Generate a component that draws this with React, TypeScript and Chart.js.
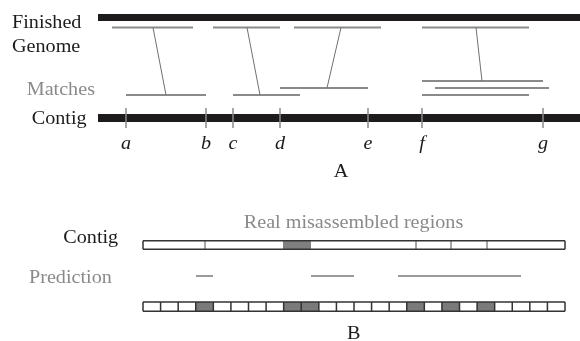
import React, { useEffect, useRef } from "react";
import { Chart, registerables } from "chart.js";
Chart.register(...registerables);

// ---------- Panel A data (sequence positions) ----------
const genomeSpan = [98, 580];
const contigSpan = [98, 580];
const genomeMatches = [[112, 193], [213, 280], [294, 381], [422, 529]];
const contigMatches = [[126, 206], [233, 300], [280, 368], [422, 543], [435, 549], [422, 529]];
const contigMatchLevel = [95, 95, 88, 81, 88, 95];
const linkGenomePos = [153, 247, 341, 476];
const linkContigPos = [166, 260, 327, 482];
const linkContigLevel = [95, 95, 88, 81];
const breakpointLabels = ["a", "b", "c", "d", "e", "f", "g"];
const breakpointPos = [126, 206, 233, 280, 368, 422, 543];

// ---------- Panel B data ----------
const contigBSpan = [143, 565];
const contigBDividers = [205, 416, 451, 487];
const realRegions = [[283, 311]];
const predictions = [[196, 213], [311, 354], [398, 521]];
const windowCount = 24;
const flaggedWindows = [3, 8, 9, 15, 17, 19];

// ---------- Track levels ----------
const Y_GENOME = 17.5;
const Y_GENOME_MATCH = 27.5;
const Y_CONTIG = 118;
const Y_TICK = [108, 128];
const Y_CONTIG_B = [240.7, 249.3];
const Y_PRED = 276;
const Y_WIN = [302, 311.3];

type P = { x: number; y: number | null };
const segs = (list: number[][]): P[] => {
  const out: P[] = [];
  list.forEach((s) => {
    out.push({ x: s[0], y: s[1] }, { x: s[2], y: s[3] }, { x: s[2], y: null });
  });
  return out;
};
const rect = (x1: number, x2: number, y1: number, y2: number): number[][] => [
  [x1, y1, x2, y1],
  [x2, y1, x2, y2],
  [x2, y2, x1, y2],
  [x1, y2, x1, y1],
];

const INK = "#1e1b1c";
const GRAY = "#8a8a8a";

const STRETCH = 1.12;
const FONT_SIZE = 18;
const FONT = '"Liberation Serif", "Times New Roman", serif';

type Label = { t: string; x: number; y: number; color: string; align: CanvasTextAlign; italic?: boolean };
const textLabels: Label[] = [
  { t: "Finished", x: 12, y: 27.7, color: INK, align: "left" },
  { t: "Genome", x: 12, y: 51.5, color: INK, align: "left" },
  { t: "Matches", x: 26.7, y: 95, color: GRAY, align: "left" },
  { t: "Contig", x: 31.7, y: 123.5, color: INK, align: "left" },
  { t: "A", x: 341, y: 176.5, color: INK, align: "center" },
  { t: "Real misassembled regions", x: 353.5, y: 227.5, color: GRAY, align: "center" },
  { t: "Contig", x: 63.3, y: 242.5, color: INK, align: "left" },
  { t: "Prediction", x: 29, y: 283, color: GRAY, align: "left" },
  { t: "B", x: 353.7, y: 339, color: INK, align: "center" },
  ...breakpointLabels.map((t, i) => ({ t, x: breakpointPos[i], y: 149, color: INK, align: "center" as CanvasTextAlign, italic: true })),
];

const textPlugin = {
  id: "diagramText",
  afterDatasetsDraw(chart: any) {
    const { ctx, scales } = chart;
    ctx.save();
    textLabels.forEach((l) => {
      const px = scales.x.getPixelForValue(l.x);
      const py = scales.y.getPixelForValue(l.y);
      ctx.save();
      ctx.translate(px, py);
      ctx.scale(STRETCH, 1);
      ctx.font = `${l.italic ? "italic " : ""}${FONT_SIZE}px ${FONT}`;
      ctx.fillStyle = l.color;
      ctx.textAlign = l.align;
      ctx.textBaseline = "alphabetic";
      ctx.fillText(l.t, 0, 0);
      ctx.restore();
    });
    ctx.restore();
  },
};

const line = (data: P[], color: string, width: number, order: number) => ({
  type: "scatter" as const,
  data,
  showLine: true,
  borderColor: color,
  backgroundColor: color,
  borderWidth: width,
  pointRadius: 0,
  spanGaps: false,
  tension: 0,
  borderCapStyle: "butt" as const,
  borderJoinStyle: "miter" as const,
  clip: false as const,
  order,
});

export default function App() {
  const ref = useRef<HTMLCanvasElement>(null);
  useEffect(() => {
    if (!ref.current) return;
    const winW = (contigBSpan[1] - contigBSpan[0]) / windowCount;
    const winEdges = Array.from({ length: windowCount - 1 }, (_, i) => contigBSpan[0] + winW * (i + 1));
    const yWinMid = (Y_WIN[0] + Y_WIN[1]) / 2;
    const yCbMid = (Y_CONTIG_B[0] + Y_CONTIG_B[1]) / 2;

    const datasets: any[] = [
      line(segs([[genomeSpan[0], Y_GENOME, genomeSpan[1], Y_GENOME]]), INK, 7, 5),
      line(segs([[contigSpan[0], Y_CONTIG, contigSpan[1], Y_CONTIG]]), INK, 8, 5),
      line(segs(genomeMatches.map((m) => [m[0], Y_GENOME_MATCH, m[1], Y_GENOME_MATCH])), GRAY, 2, 3),
      line(segs(contigMatches.map((m, i) => [m[0], contigMatchLevel[i], m[1], contigMatchLevel[i]])), GRAY, 2, 3),
      line(segs(linkGenomePos.map((g, i) => [g, Y_GENOME_MATCH, linkContigPos[i], linkContigLevel[i]])), "#707070", 1, 2),
      line(segs(breakpointPos.map((x) => [x, Y_TICK[0], x, Y_TICK[1]])), GRAY, 1.5, 1),
      // Panel B contig
      line(segs(realRegions.map((r) => [r[0], yCbMid, r[1], yCbMid])), "#7f7f7f", Y_CONTIG_B[1] - Y_CONTIG_B[0], 6),
      line(segs(contigBDividers.map((x) => [x, Y_CONTIG_B[0], x, Y_CONTIG_B[1]])), "#9a9a9a", 1, 4),
      line(segs(rect(contigBSpan[0], contigBSpan[1], Y_CONTIG_B[0], Y_CONTIG_B[1])), "#333333", 1.5, 1),
      line(segs(predictions.map((p) => [p[0], Y_PRED, p[1], Y_PRED])), "#9a9a9a", 2, 3),
      // windows
      line(segs(flaggedWindows.map((w) => [contigBSpan[0] + w * winW, yWinMid, contigBSpan[0] + (w + 1) * winW, yWinMid])), "#7a7a7a", Y_WIN[1] - Y_WIN[0], 6),
      line(segs(winEdges.map((x) => [x, Y_WIN[0], x, Y_WIN[1]])), "#333333", 1.5, 1),
      line(segs(rect(contigBSpan[0], contigBSpan[1], Y_WIN[0], Y_WIN[1])), "#333333", 1.5, 1),
    ];

    const chart = new Chart(ref.current, {
      type: "scatter",
      data: { datasets },
      options: {
        responsive: false,
        animation: false,
        events: [],
        layout: { padding: 0 },
        plugins: { legend: { display: false }, tooltip: { enabled: false } },
        scales: {
          x: { type: "linear", min: 0, max: 580, display: false },
          y: { type: "linear", min: 0, max: 341, reverse: true, display: false },
        },
      },
      plugins: [textPlugin],
    });
    return () => chart.destroy();
  }, []);

  return (
    <div style={{ position: "absolute", left: 0, top: 0, width: 580, height: 341, background: "#fff" }}>
      <canvas ref={ref} width={580} height={341} style={{ display: "block" }} />
    </div>
  );
}
